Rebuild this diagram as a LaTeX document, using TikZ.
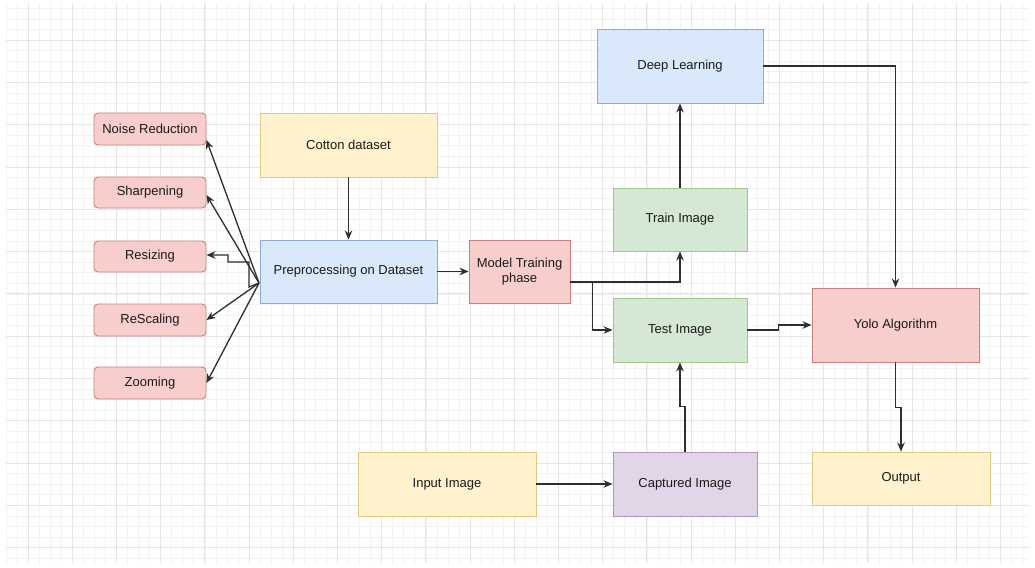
\documentclass[tikz,border=0pt]{standalone}
\usepackage{fontspec}
\setmainfont{Liberation Sans}
\usetikzlibrary{arrows.meta,calc}
\definecolor{ylwF}{HTML}{FFF2CC}\definecolor{ylwD}{HTML}{D6B656}
\definecolor{bluF}{HTML}{DAE8FC}\definecolor{bluD}{HTML}{6C8EBF}
\definecolor{redF}{HTML}{F8CECC}\definecolor{redD}{HTML}{B85450}
\definecolor{grnF}{HTML}{D5E8D4}\definecolor{grnD}{HTML}{82B366}
\definecolor{purF}{HTML}{E1D5E7}\definecolor{purD}{HTML}{9673A6}
\definecolor{txt}{HTML}{1A1A1A}
\definecolor{edge}{HTML}{2E2E2E}
\begin{document}
\begin{tikzpicture}[x=1pt,y=-1pt,
  box/.style={draw, line width=0.9pt, inner sep=2pt, align=center, text=txt,
    font=\fontsize{13}{15}\selectfont},
  ybox/.style={box, fill=ylwF, draw=ylwD!75},
  bbox/.style={box, fill=bluF, draw=bluD!75},
  rbox/.style={box, fill=redF, draw=redD!75},
  gbox/.style={box, fill=grnF, draw=grnD!75},
  pbox/.style={box, fill=purF, draw=purD!75},
  rrbox/.style={rbox, rounded corners=4pt},
  conn/.style={draw=edge, line width=1.3pt, -{Stealth[length=9pt,width=7.5pt]}},
  minorgrid/.style={draw=black!5, line width=0.6pt},
  majorgrid/.style={draw=black!10, line width=0.8pt}]
\useasboundingbox (0,0) rectangle (1035,567);
\fill[white] (0,0) rectangle (1035,567);
% grid
\foreach \k in {-2,...,90} \draw[minorgrid] ({28+11.05*\k},3) -- ({28+11.05*\k},563);
\foreach \k in {-3,...,49} \draw[minorgrid] (6,{40+10.575*\k}) -- (1029,{40+10.575*\k});
\foreach \k in {0,...,22} \draw[majorgrid] ({28+44.2*\k},3) -- ({28+44.2*\k},563);
\foreach \k in {0,...,12} \draw[majorgrid] (6,{40+42.3*\k}) -- (1029,{40+42.3*\k});
% nodes
\node[rrbox, minimum width=112pt, minimum height=32pt] (noise) at (150,129) {Noise Reduction};
\node[rrbox, minimum width=112pt, minimum height=31pt] (sharp) at (150,192.5) {Sharpening};
\node[rrbox, minimum width=112pt, minimum height=31pt] (resize) at (150,256.5) {Resizing};
\node[rrbox, minimum width=112pt, minimum height=32pt] (rescale) at (150,320) {ReScaling};
\node[rrbox, minimum width=112pt, minimum height=32pt] (zoom) at (150,383) {Zooming};
\node[ybox, minimum width=177pt, minimum height=64pt] (cotton) at (348.5,145) {Cotton dataset};
\node[bbox, minimum width=177pt, minimum height=63pt] (pre) at (348.5,271.5) {Preprocessing on Dataset};
\node[rbox, minimum width=101pt, minimum height=63pt] (model) at (519.5,271.5) {Model Training\\phase};
\node[bbox, minimum width=166pt, minimum height=74pt] (dl) at (680,66) {Deep Learning};
\node[gbox, minimum width=134pt, minimum height=63pt] (train) at (680,219.5) {Train Image};
\node[gbox, minimum width=134pt, minimum height=64pt] (test) at (680,330) {Test Image};
\node[rbox, minimum width=167pt, minimum height=74pt] (yolo) at (895.5,325) {Yolo Algorithm};
\node[ybox, minimum width=178pt, minimum height=64pt] (input) at (447,484) {Input Image};
\node[pbox, minimum width=144pt, minimum height=64pt] (capt) at (685,484) {Captured Image};
\node[ybox, minimum width=178pt, minimum height=53pt] (output) at (901,478.5) {Output};
% connectors
\coordinate (F) at (259,283);
\coordinate (M1) at ($(model.east)+(0,10.5)$);
\draw[conn] (cotton.south) -- (pre.north);
\draw[conn] (pre.east) -- (model.west);
\draw[conn] (F) -- ($(noise.east)+(0,11)$);
\draw[conn] (F) -- ($(sharp.east)+(0,2.5)$);
\draw[conn] (F) -- (249,287) -- (249,262) -- (228,262) -- (228,255) -- ($(resize.east)+(0,-1.5)$);
\draw[conn] (F) -- (rescale.east);
\draw[conn] (F) -- (zoom.east);
\draw[conn] (M1) -| (train.south);
\draw[conn] (M1) -- ++(22,0) |- (test.west);
\draw[conn] (test.east) -- ++(31,0) |- (yolo.west);
\draw[conn] (dl.east) -| (yolo.north);
\draw[conn] (train.north) -- (dl.south);
\draw[conn] (capt.north) -- ++(0,-45) -| (test.south);
\draw[conn] (yolo.south) -- ++(0,45) -| (output.north);
\draw[conn] (input.east) -- (capt.west);
\end{tikzpicture}
\end{document}
